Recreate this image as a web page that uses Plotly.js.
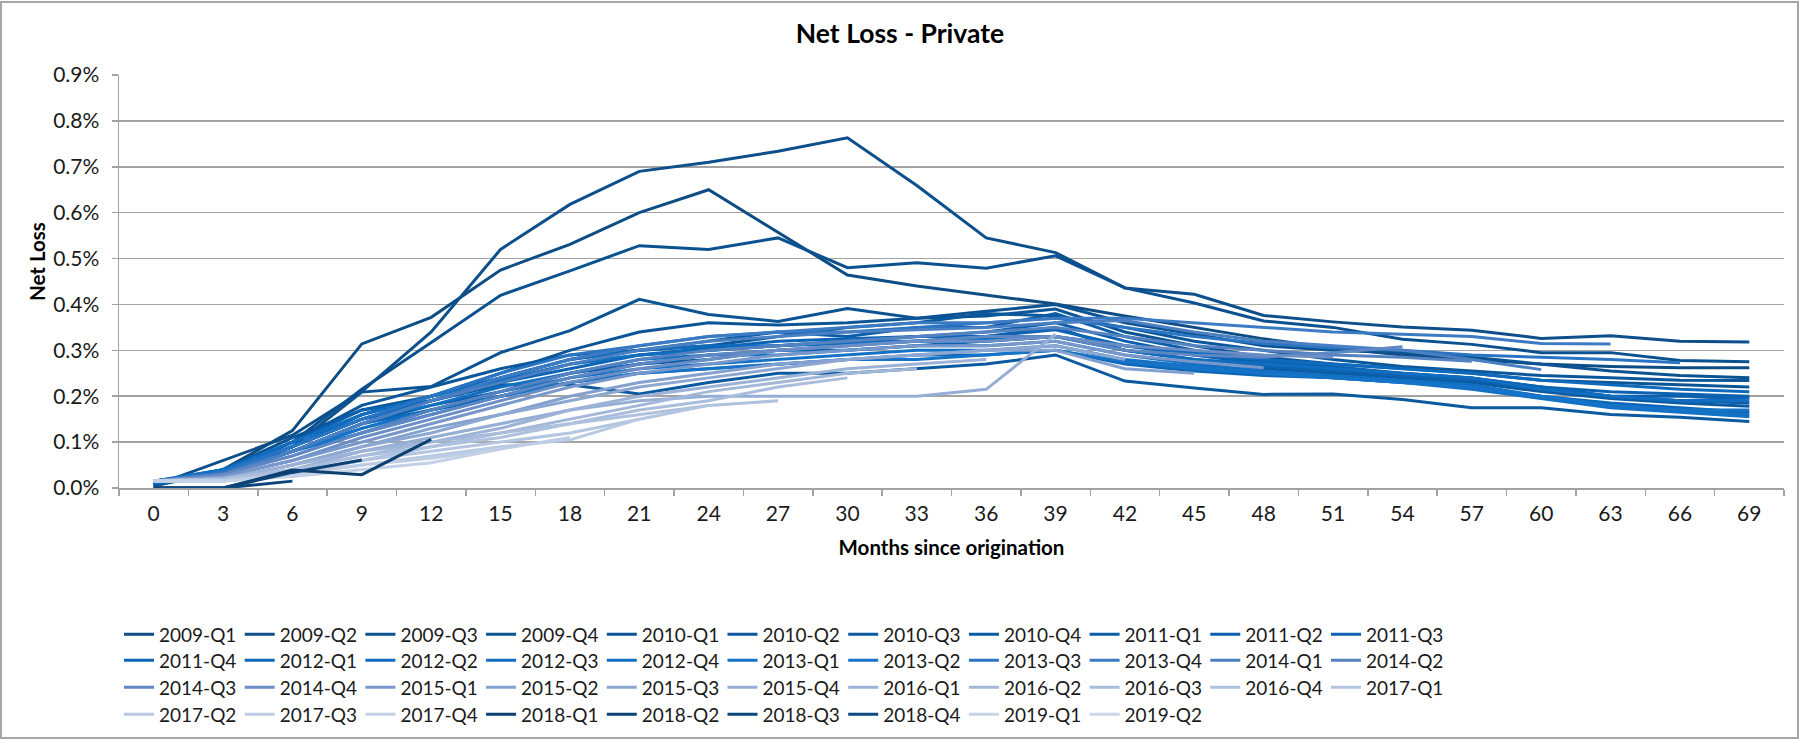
<!DOCTYPE html>
<html>
<head>
<meta charset="utf-8">
<script src="https://cdn.plot.ly/plotly-3.0.1.min.js"></script>
<style>
  body { margin: 0; background: #fff; }
  #chart { width: 1800px; height: 740px; }
  #frame { position: absolute; left: 0; top: 1px; width: 1795px; height: 734px; border: 2px solid #a6a6a6; pointer-events: none; }
</style>
</head>
<body>
<div id="chart"></div>
<div id="frame"></div>
<script>
// months since origination (x categories)
var months = [0, 3, 6, 9, 12, 15, 18, 21, 24, 27, 30, 33, 36, 39, 42, 45, 48, 51, 54, 57, 60, 63, 66, 69];

var vintages = [
  "2009-Q1", "2009-Q2", "2009-Q3", "2009-Q4", "2010-Q1", "2010-Q2", "2010-Q3", "2010-Q4",
  "2011-Q1", "2011-Q2", "2011-Q3", "2011-Q4", "2012-Q1", "2012-Q2", "2012-Q3", "2012-Q4",
  "2013-Q1", "2013-Q2", "2013-Q3", "2013-Q4", "2014-Q1", "2014-Q2", "2014-Q3", "2014-Q4",
  "2015-Q1", "2015-Q2", "2015-Q3", "2015-Q4", "2016-Q1", "2016-Q2", "2016-Q3", "2016-Q4",
  "2017-Q1", "2017-Q2", "2017-Q3", "2017-Q4", "2018-Q1", "2018-Q2", "2018-Q3", "2018-Q4",
  "2019-Q1", "2019-Q2"
];

// net loss in %, one row per vintage
var netLoss = [
  [0.01, 0.04, 0.125, 0.314, 0.372, 0.475, 0.531, 0.60, 0.65, 0.557, 0.464, 0.44, 0.42, 0.401, 0.375, 0.35, 0.325, 0.305, 0.29, 0.28, 0.27, 0.265, 0.262, 0.262],
  [0.005, 0.06, 0.115, 0.21, 0.34, 0.52, 0.618, 0.69, 0.71, 0.734, 0.763, 0.659, 0.545, 0.513, 0.436, 0.422, 0.376, 0.362, 0.351, 0.344, 0.326, 0.332, 0.32, 0.318],
  [0.005, 0.04, 0.10, 0.215, 0.317, 0.42, 0.473, 0.528, 0.52, 0.545, 0.48, 0.491, 0.479, 0.506, 0.436, 0.403, 0.364, 0.35, 0.324, 0.313, 0.295, 0.295, 0.278, 0.275],
  [0.005, 0.035, 0.09, 0.209, 0.221, 0.295, 0.343, 0.411, 0.378, 0.363, 0.391, 0.37, 0.385, 0.40, 0.36, 0.335, 0.31, 0.30, 0.295, 0.285, 0.27, 0.255, 0.245, 0.24],
  [0.01, 0.04, 0.11, 0.17, 0.20, 0.25, 0.30, 0.34, 0.36, 0.355, 0.36, 0.37, 0.375, 0.39, 0.34, 0.31, 0.285, 0.27, 0.26, 0.25, 0.235, 0.23, 0.225, 0.22],
  [0.01, 0.035, 0.10, 0.18, 0.22, 0.26, 0.29, 0.30, 0.31, 0.33, 0.35, 0.36, 0.38, 0.375, 0.35, 0.32, 0.30, 0.28, 0.265, 0.255, 0.245, 0.24, 0.235, 0.234],
  [0.01, 0.03, 0.09, 0.15, 0.19, 0.225, 0.225, 0.205, 0.23, 0.25, 0.25, 0.26, 0.27, 0.29, 0.233, 0.218, 0.204, 0.205, 0.193, 0.175, 0.175, 0.16, 0.154, 0.145],
  [0.01, 0.03, 0.08, 0.14, 0.18, 0.21, 0.25, 0.27, 0.28, 0.30, 0.31, 0.32, 0.33, 0.35, 0.30, 0.28, 0.26, 0.25, 0.24, 0.23, 0.21, 0.195, 0.185, 0.178],
  [0.01, 0.03, 0.09, 0.16, 0.20, 0.24, 0.28, 0.30, 0.32, 0.34, 0.33, 0.35, 0.35, 0.38, 0.33, 0.30, 0.28, 0.26, 0.25, 0.24, 0.22, 0.20, 0.19, 0.185],
  [0.01, 0.035, 0.10, 0.17, 0.19, 0.23, 0.27, 0.29, 0.30, 0.31, 0.32, 0.33, 0.34, 0.36, 0.32, 0.29, 0.27, 0.255, 0.245, 0.235, 0.215, 0.20, 0.20, 0.198],
  [0.01, 0.03, 0.08, 0.13, 0.17, 0.20, 0.24, 0.27, 0.29, 0.30, 0.30, 0.31, 0.32, 0.33, 0.30, 0.28, 0.265, 0.255, 0.245, 0.235, 0.22, 0.21, 0.205, 0.20],
  [0.01, 0.03, 0.09, 0.15, 0.19, 0.23, 0.26, 0.29, 0.305, 0.32, 0.325, 0.33, 0.33, 0.345, 0.31, 0.29, 0.275, 0.265, 0.25, 0.24, 0.22, 0.20, 0.19, 0.196],
  [0.01, 0.03, 0.08, 0.14, 0.17, 0.20, 0.23, 0.25, 0.26, 0.27, 0.28, 0.29, 0.29, 0.30, 0.27, 0.255, 0.245, 0.24, 0.23, 0.22, 0.20, 0.185, 0.175, 0.165],
  [0.01, 0.035, 0.09, 0.16, 0.20, 0.24, 0.28, 0.30, 0.31, 0.31, 0.32, 0.32, 0.32, 0.33, 0.31, 0.295, 0.28, 0.27, 0.26, 0.25, 0.235, 0.225, 0.215, 0.21],
  [0.015, 0.04, 0.10, 0.16, 0.20, 0.235, 0.27, 0.29, 0.30, 0.31, 0.315, 0.32, 0.325, 0.33, 0.30, 0.28, 0.27, 0.26, 0.25, 0.24, 0.215, 0.20, 0.19, 0.19],
  [0.015, 0.04, 0.09, 0.15, 0.18, 0.22, 0.25, 0.28, 0.29, 0.29, 0.30, 0.31, 0.31, 0.32, 0.29, 0.27, 0.255, 0.245, 0.235, 0.225, 0.20, 0.18, 0.17, 0.16],
  [0.015, 0.035, 0.08, 0.13, 0.17, 0.21, 0.24, 0.26, 0.27, 0.28, 0.29, 0.30, 0.30, 0.31, 0.28, 0.265, 0.25, 0.24, 0.23, 0.215, 0.195, 0.175, 0.165, 0.155],
  [0.015, 0.035, 0.08, 0.12, 0.16, 0.20, 0.23, 0.25, 0.26, 0.27, 0.28, 0.28, 0.29, 0.30, 0.275, 0.26, 0.25, 0.24, 0.23, 0.22, 0.20, 0.18, 0.17, 0.17],
  [0.015, 0.035, 0.09, 0.15, 0.20, 0.25, 0.29, 0.31, 0.33, 0.34, 0.34, 0.35, 0.36, 0.37, 0.35, 0.33, 0.315, 0.305, 0.30, 0.29, 0.285, 0.28, 0.273],
  [0.015, 0.03, 0.08, 0.14, 0.19, 0.24, 0.28, 0.31, 0.33, 0.34, 0.35, 0.36, 0.36, 0.37, 0.37, 0.36, 0.35, 0.34, 0.335, 0.33, 0.315, 0.314],
  [0.015, 0.03, 0.08, 0.14, 0.19, 0.23, 0.27, 0.30, 0.32, 0.33, 0.34, 0.345, 0.35, 0.36, 0.365, 0.34, 0.32, 0.31, 0.30, 0.28, 0.258],
  [0.015, 0.03, 0.07, 0.12, 0.17, 0.21, 0.25, 0.28, 0.30, 0.31, 0.32, 0.33, 0.34, 0.35, 0.33, 0.31, 0.30, 0.29, 0.285, 0.276],
  [0.015, 0.03, 0.07, 0.12, 0.16, 0.20, 0.24, 0.27, 0.29, 0.30, 0.31, 0.32, 0.33, 0.33, 0.30, 0.29, 0.285, 0.295, 0.308],
  [0.015, 0.025, 0.06, 0.11, 0.15, 0.19, 0.23, 0.26, 0.28, 0.30, 0.31, 0.32, 0.32, 0.33, 0.31, 0.30, 0.29, 0.285],
  [0.015, 0.025, 0.06, 0.10, 0.14, 0.18, 0.22, 0.25, 0.27, 0.29, 0.30, 0.31, 0.31, 0.32, 0.29, 0.275, 0.262],
  [0.015, 0.02, 0.05, 0.09, 0.13, 0.16, 0.20, 0.23, 0.25, 0.27, 0.28, 0.29, 0.30, 0.30, 0.26, 0.25],
  [0.015, 0.02, 0.05, 0.09, 0.12, 0.16, 0.19, 0.22, 0.24, 0.26, 0.28, 0.29, 0.30, 0.31, 0.28],
  [0.015, 0.02, 0.04, 0.08, 0.11, 0.14, 0.17, 0.19, 0.20, 0.20, 0.20, 0.20, 0.215, 0.335],
  [0.015, 0.02, 0.05, 0.08, 0.10, 0.13, 0.17, 0.20, 0.22, 0.24, 0.26, 0.27, 0.28],
  [0.015, 0.02, 0.04, 0.07, 0.10, 0.12, 0.15, 0.18, 0.21, 0.23, 0.25, 0.26],
  [0.015, 0.02, 0.04, 0.07, 0.09, 0.12, 0.14, 0.17, 0.19, 0.22, 0.24],
  [0.015, 0.015, 0.035, 0.06, 0.09, 0.11, 0.14, 0.16, 0.18, 0.19],
  [0.015, 0.015, 0.03, 0.06, 0.08, 0.10, 0.12, 0.15, 0.18],
  [0.015, 0.015, 0.03, 0.05, 0.07, 0.09, 0.105, 0.15],
  [0.015, 0.015, 0.03, 0.05, 0.065, 0.085, 0.11],
  [0.015, 0.015, 0.025, 0.04, 0.055, 0.085],
  [0.0, 0.0, 0.039, 0.029, 0.106],
  [0.0, 0.0, 0.034, 0.061],
  [0.0, 0.0, 0.015],
  [0.0, 0.0],
  [0.015],
  [0.01]
];

var vintageColors = [
  "#0e4c84", "#0d4f8a", "#0c518f", "#0c5393", "#0b5597", "#0b579b", "#0b599f", "#0b5ba3",
  "#0b5da8", "#0b5fac", "#0c61b0", "#0c64b4", "#0d67b8", "#0e6abc", "#106dbf", "#1170c2",
  "#1372c5", "#1574c7", "#2a74c4", "#3c7bc3", "#4a7fc2", "#5583c2", "#5f87c4", "#6b8ec6",
  "#7897cb", "#83a0ce", "#8ca7d1", "#95aed5", "#9cb3d7", "#a3b8d9", "#a9bddc", "#aec1de",
  "#b3c5e0", "#b9c9e2", "#becde4", "#c3d1e6", "#0b3f70", "#0c4275", "#0d467b", "#0e4a80",
  "#c8d3e6", "#ccd6e8"
];

var fontFamily = "Lato, 'Open Sans', sans-serif";
var gridColor = "#a3a3a3";
var figureHeight = 740;
var itemsPerLegendRow = 11;
var legendRowTopsPx = [615.5, 641.5, 668.5, 695.5];

function legendName(row) {
  return row === 0 ? "legend" : "legend" + (row + 1);
}

function createTraces() {
  return vintages.map(function(name, i) {
    var values = netLoss[i];
    return {
      x: months.slice(0, values.length).map(String),
      y: values,
      type: "scatter",
      mode: "lines",
      name: name,
      legend: legendName(Math.floor(i / itemsPerLegendRow)),
      line: { color: vintageColors[i], width: 3 },
      hoverinfo: "skip"
    };
  });
}

// one legend per row, placed against the whole figure so it does not push the plot up
function createLegend(topPx) {
  return {
    orientation: "h",
    xref: "paper",
    x: 0,
    xanchor: "left",
    yref: "container",
    y: 1 - topPx / figureHeight,
    yanchor: "top",
    traceorder: "normal",
    entrywidth: 75.7,
    entrywidthmode: "pixels",
    itemwidth: 30,
    font: { family: fontFamily, size: 19, color: "#1a1a1a" },
    bgcolor: "rgba(0,0,0,0)"
  };
}

var layout = {
  width: 1800,
  height: figureHeight,
  paper_bgcolor: "#ffffff",
  plot_bgcolor: "#ffffff",
  margin: { l: 119, r: 16, t: 75, b: 252, pad: 0 },
  font: { family: fontFamily, color: "#1a1a1a", size: 19 },
  title: {
    text: "Net Loss - Private",
    font: { family: fontFamily, size: 26.5, weight: "bold", color: "#000000" },
    x: 0.5,
    xanchor: "center",
    y: 1 - 34 / figureHeight,
    yanchor: "middle"
  },
  xaxis: {
    type: "category",
    categoryorder: "array",
    categoryarray: months.map(String),
    range: [-0.5, months.length - 0.5],
    tickson: "boundaries",
    ticks: "outside",
    ticklen: 6,
    tickwidth: 1.5,
    tickcolor: gridColor,
    ticklabelstandoff: 6,
    showline: true,
    linecolor: gridColor,
    linewidth: 1.5,
    showgrid: false,
    zeroline: false,
    automargin: false,
    tickfont: { size: 21, color: "#1a1a1a" },
    title: {
      text: "Months since origination",
      font: { size: 20.5, weight: "bold", color: "#000000" },
      standoff: 16.5
    }
  },
  yaxis: {
    range: [0, 0.9],
    dtick: 0.1,
    tickformat: ".1f",
    ticksuffix: "%",
    ticks: "outside",
    ticklen: 6,
    tickwidth: 1.5,
    tickcolor: gridColor,
    ticklabelstandoff: 8,
    showline: true,
    linecolor: gridColor,
    linewidth: 1.5,
    showgrid: true,
    gridcolor: gridColor,
    gridwidth: 1.5,
    zeroline: false,
    automargin: false,
    tickfont: { size: 21, color: "#1a1a1a" }
  },
  // the y title sits a little above the middle, as in the original
  annotations: [{
    text: "Net Loss",
    textangle: -90,
    xref: "paper",
    yref: "paper",
    x: (37 - 119) / 1665,
    y: (488 - 262) / 413,
    xanchor: "center",
    yanchor: "middle",
    showarrow: false,
    font: { family: fontFamily, size: 20.5, weight: "bold", color: "#000000" }
  }],
  showlegend: true
};

legendRowTopsPx.forEach(function(topPx, row) {
  layout[legendName(row)] = createLegend(topPx);
});

Plotly.newPlot("chart", createTraces(), layout, { staticPlot: true, displayModeBar: false });
</script>
</body>
</html>
